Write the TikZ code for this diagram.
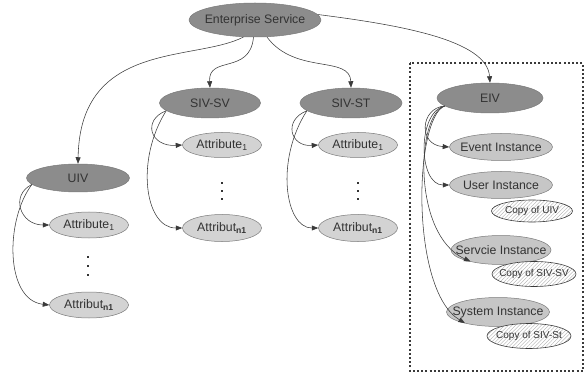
\documentclass[tikz,border=0pt]{standalone}
\usepackage{fontspec}
\setmainfont{Liberation Sans}
\usetikzlibrary{shapes.geometric,arrows.meta,patterns.meta}
\definecolor{darkfill}{HTML}{8C8C8C}
\definecolor{lightfill}{HTML}{D3D3D3}
\definecolor{instfill}{HTML}{C6C6C6}
\definecolor{edgecol}{HTML}{7A7A7A}
\definecolor{txtcol}{HTML}{333333}
\definecolor{linecol}{HTML}{3A3A3A}
\tikzset{
  base/.style={ellipse, inner sep=0pt, draw=edgecol, line width=0.5pt,
    label={[text=txtcol, font=\fontsize{12.3}{14}\selectfont]center:#1}},
  darknode/.style={base={#1}, fill=darkfill},
  lightnode/.style={base={#1}, fill=lightfill},
  instnode/.style={base={#1}, fill=instfill},
  copynode/.style={ellipse, inner sep=0pt, draw=linecol, line width=0.6pt,
    preaction={fill=white},
    pattern={Lines[angle=45,distance=2.6pt,line width=0.35pt]}, pattern color=gray!65,
    label={[text=txtcol, font=\fontsize{10}{12}\selectfont]center:#1}},
  conn/.style={draw=linecol, line width=0.55pt, -{Triangle[length=6.5pt,width=5pt]}},
  dotmark/.style={fill=txtcol, minimum size=1.8pt, inner sep=0pt, rectangle},
}
\begin{document}
\begin{tikzpicture}[x=1pt,y=-1pt]
\useasboundingbox (0,0) rectangle (586,374);
% dotted frame
\draw[linecol, line width=2pt, dash pattern=on 2pt off 2.2pt] (410,63) rectangle (583,371);
% top
\node[darknode={Enterprise Service}, minimum width=132pt, minimum height=34pt] (es) at (255,20) {};
\node[darknode={SIV-SV}, minimum width=101pt, minimum height=30pt] (sivsv) at (210,103) {};
\node[darknode={SIV-ST}, minimum width=102pt, minimum height=30pt] (sivst) at (351,103) {};
\node[darknode={UIV}, minimum width=103pt, minimum height=28pt] (uiv) at (78,178) {};
\node[darknode={EIV}, minimum width=106pt, minimum height=30pt] (eiv) at (490,98) {};
% attributes
\node[lightnode={Attribute\textsubscript{1}}, minimum width=79pt, minimum height=26pt] (ua1) at (89,225) {};
\node[lightnode={Attribut\textsubscript{\textbf{n1}}}, minimum width=79pt, minimum height=26pt] (uan) at (89,305) {};
\node[lightnode={Attribute\textsubscript{1}}, minimum width=79pt, minimum height=25pt] (sva1) at (222,145) {};
\node[lightnode={Attribut\textsubscript{\textbf{n1}}}, minimum width=79pt, minimum height=27pt] (svan) at (222,228) {};
\node[lightnode={Attribute\textsubscript{1}}, minimum width=79pt, minimum height=25pt] (sta1) at (358,145) {};
\node[lightnode={Attribut\textsubscript{\textbf{n1}}}, minimum width=79pt, minimum height=27pt] (stan) at (358,228) {};
% instances
\node[instnode={Event Instance}, minimum width=103pt, minimum height=27pt] (ev) at (501,147) {};
\node[instnode={User Instance}, minimum width=103pt, minimum height=27pt] (us) at (501,185) {};
\node[instnode={Servcie Instance}, minimum width=100pt, minimum height=29pt] (sv) at (501,250) {};
\node[instnode={System Instance}, minimum width=103pt, minimum height=29pt] (sy) at (498,312) {};
\node[copynode={Copy of UIV}, minimum width=81pt, minimum height=22pt] (cu) at (532,211) {};
\node[copynode={Copy of SIV-SV}, minimum width=84pt, minimum height=25pt] (csv) at (534,274) {};
\node[copynode={Copy of SIV-St}, minimum width=84pt, minimum height=25pt] (cst) at (529,336) {};
% dots
\foreach \y in {257,266,275} \node[dotmark] (ud\y) at (88,\y) {};
\foreach \y in {183,191,199} \node[dotmark] (svd\y) at (222,\y) {};
\foreach \y in {183,191,199} \node[dotmark] (std\y) at (358,\y) {};
% connectors from Enterprise Service
\draw[conn] (es.236) .. controls (195,62) and (80,40) .. (uiv.north);
\draw[conn] (es.265) .. controls (250,75) and (208,55) .. (sivsv.north);
\draw[conn] (es.305) .. controls (295,75) and (350,55) .. (sivst.north);
\draw[conn] (es.5) .. controls (400,25) and (487,40) .. (eiv.north);
% UIV children
\draw[conn] (uiv.188) .. controls (10,195) and (20,225) .. (ua1.west);
\draw[conn] (uiv.188) .. controls (5,220) and (5,300) .. (uan.west);
% SIV-SV children
\draw[conn] (sivsv.190) .. controls (142,120) and (150,147) .. (sva1.west);
\draw[conn] (sivsv.190) .. controls (135,160) and (145,228) .. (svan.west);
% SIV-ST children
\draw[conn] (sivst.190) .. controls (283,120) and (290,147) .. (sta1.west);
\draw[conn] (sivst.190) .. controls (275,160) and (285,228) .. (stan.west);
% EIV children
\draw[conn] (eiv.190) .. controls (420,108) and (418,145) .. (ev.west);
\draw[conn] (eiv.190) .. controls (417,112) and (418,185) .. (us.west);
\draw[conn] (eiv.190) .. controls (416,115) and (412,235) .. ([xshift=1pt]sv.200);
\draw[conn] (eiv.190) .. controls (414,118) and (410,290) .. ([xshift=1pt]sy.198);
\end{tikzpicture}
\end{document}
